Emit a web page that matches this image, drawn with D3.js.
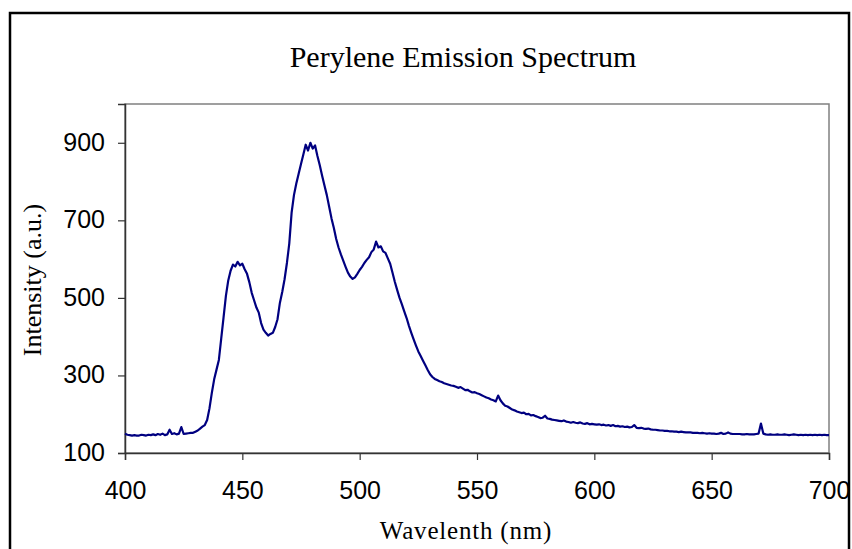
<!DOCTYPE html>
<html>
<head>
    <meta charset="utf-8">
    <title>Perylene Emission Spectrum</title>
    <script type="text/javascript" src="https://cdn.jsdelivr.net/npm/d3@7"></script>
    <style>
        body { margin: 0; background: #fff; }
        .tick text { font-family: "Liberation Sans", Arial, sans-serif; font-size: 25px; fill: #000; }
        .serif { font-family: "Liberation Serif", "Times New Roman", serif; fill: #000; }
    </style>
</head>
<body>
<script type="text/javascript">
    // spectrum sampled every 1 nm, 400..700
    var startWavelength = 400,
        stepNm = 1;

    var intensity = [
        150, 147, 146, 145, 146, 145, 145, 147, 146, 145,   // 400
        147, 146, 148, 146, 149, 147, 150, 146, 148, 160,   // 410
        149, 151, 148, 150, 167, 149, 150, 151, 152, 152,   // 420
        155, 158, 163, 168, 172, 185, 215, 255, 290, 315,   // 430
        340, 395, 450, 505, 545, 570, 586, 581, 593, 584,   // 440
        588, 574, 562, 540, 513, 494, 475, 462, 435, 418,   // 450
        410, 403, 407, 410, 425, 445, 487, 515, 548, 590,   // 460
        640, 720, 765, 795, 820, 845, 870, 895, 880, 900,   // 470
        885, 893, 866, 842, 815, 790, 765, 735, 705, 680,   // 480
        652, 630, 612, 596, 580, 565, 555, 549, 553, 562,   // 490
        572, 580, 590, 598, 605, 618, 625, 645, 630, 633,   // 500
        620, 616, 602, 588, 565, 541, 520, 500, 483, 465,   // 510
        448, 428, 410, 393, 377, 362, 350, 338, 326, 314,   // 520
        303, 296, 291, 288, 285, 283, 280, 278, 276, 274,   // 530
        273, 271, 268, 270, 266, 262, 263, 259, 256, 257,   // 540
        254, 252, 249, 246, 243, 241, 238, 236, 233, 248,   // 550
        236, 228, 222, 220, 216, 212, 210, 207, 205, 203,   // 560
        204, 200, 201, 197, 198, 195, 193, 190, 191, 196,   // 570
        189, 188, 186, 185, 184, 183, 182, 184, 181, 180,   // 580
        178, 180, 178, 177, 179, 176, 175, 177, 174, 175,   // 590
        174, 173, 174, 172, 173, 171, 172, 170, 172, 169,   // 600
        170, 168, 169, 167, 168, 166, 167, 172, 165, 164,   // 610
        165, 163, 162, 163, 161, 160, 160, 159, 158, 158,   // 620
        157, 157, 156, 156, 155, 155, 154, 155, 154, 153,   // 630
        153, 153, 152, 152, 152, 151, 152, 151, 150, 151,   // 640
        150, 150, 149, 150, 152, 149, 150, 153, 150, 149,   // 650
        149, 149, 149, 148, 148, 149, 148, 148, 148, 149,   // 660
        150, 176, 150, 148, 147, 148, 147, 147, 148, 147,   // 670
        147, 148, 147, 146, 147, 148, 147, 146, 147, 146,   // 680
        147, 146, 147, 146, 147, 146, 147, 146, 147, 146,   // 690
        146                                                 // 700
    ];

    var xTicks = [400, 450, 500, 550, 600, 650, 700],
        yTicks = [100, 300, 500, 700, 900];

    var titleText = "Perylene Emission Spectrum",
        xTitle = "Wavelenth (nm)",
        yTitle = "Intensity (a.u.)";

    var width = 852,
        height = 549;

    var plot = {left: 125, right: 829, top: 104, bottom: 453};

    var x = d3.scaleLinear().domain([400, 700]).range([plot.left, plot.right]);
    var y = d3.scaleLinear().domain([100, 1000]).range([plot.bottom, plot.top]);

    var svg = d3.select("body").append("svg")
            .attr("width", width)
            .attr("height", height);

    // outer chart frame
    svg.append("rect")
            .attr("x", 10).attr("y", 13)
            .attr("width", 839).attr("height", 600)
            .attr("fill", "none")
            .attr("stroke", "#000")
            .attr("stroke-width", 2.5);

    // plot area border
    svg.append("rect")
            .attr("x", plot.left).attr("y", plot.top)
            .attr("width", plot.right - plot.left)
            .attr("height", plot.bottom - plot.top)
            .attr("fill", "none")
            .attr("stroke", "#808080")
            .attr("stroke-width", 1.5);

    var xAxis = svg.append("g")
            .attr("transform", "translate(0," + plot.bottom + ")")
            .call(d3.axisBottom(x).tickValues(xTicks).tickSize(7).tickPadding(21));

    var yAxis = svg.append("g")
            .attr("transform", "translate(" + plot.left + ",0)")
            .call(d3.axisLeft(y).tickValues(yTicks).tickSize(7).tickPadding(13));

    [xAxis, yAxis].forEach(function (a) {
        a.select(".domain").attr("stroke", "#333").attr("stroke-width", 1.5);
        a.selectAll(".tick line").attr("stroke", "#333").attr("stroke-width", 1.2);
    });
    yAxis.selectAll(".tick text").attr("dy", "0.3em");

    var data = intensity.map(function (v, i) {
        return {w: startWavelength + i * stepNm, v: v};
    });

    var line = d3.line()
            .x(function (d) { return x(d.w); })
            .y(function (d) { return y(d.v); });

    svg.append("path")
            .datum(data)
            .attr("d", line)
            .attr("fill", "none")
            .attr("stroke", "#000080")
            .attr("stroke-width", 2.2)
            .attr("stroke-linejoin", "round");

    svg.append("text")
            .attr("class", "serif")
            .attr("x", 463).attr("y", 67)
            .attr("text-anchor", "middle")
            .style("font-size", "30px")
            .text(titleText);

    svg.append("text")
            .attr("class", "serif")
            .attr("x", 466).attr("y", 539)
            .attr("text-anchor", "middle")
            .style("font-size", "25px")
            .style("letter-spacing", "0.8px")
            .text(xTitle);

    svg.append("text")
            .attr("class", "serif")
            .attr("transform", "translate(41,280)rotate(-90)")
            .attr("text-anchor", "middle")
            .style("font-size", "26px")
            .text(yTitle);
</script>
</body>
</html>
